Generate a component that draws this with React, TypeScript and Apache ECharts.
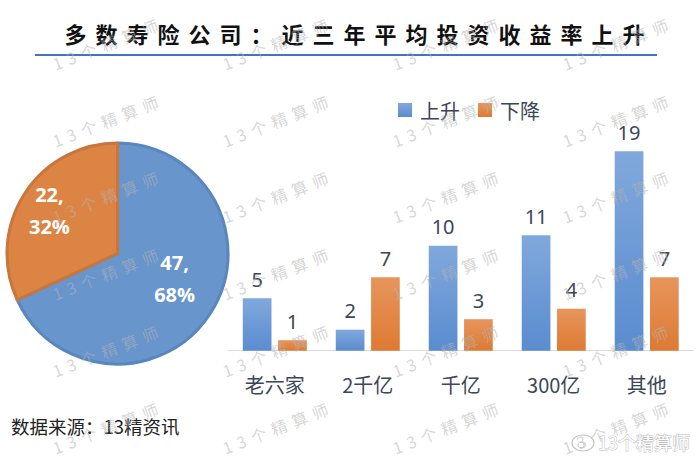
import React, { useEffect, useRef } from "react";
import * as echarts from "echarts";

const titleText = "多数寿险公司：近三年平均投资收益率上升";
const sourceText = "数据来源：13精资讯";
const watermarkText = "13个精算师";
const pieNames = ["上升", "下降"];
const pieValues = [47, 22];
const categories = ["老六家", "2千亿", "千亿", "300亿", "其他"];
const seriesNames = ["上升", "下降"];
const riseValues = [5, 2, 10, 11, 19];
const fallValues = [1, 7, 3, 4, 7];

const CJK = "'Noto Sans CJK SC', 'Microsoft YaHei', sans-serif";
const LABEL_COLOR = "#3B4658";

const wmRows = [43, 120, 196, 273, 350, 427];
const wmCols = [108, 278, 448, 618];

export default function App() {
  const ref = useRef<HTMLDivElement>(null);
  useEffect(() => {
    if (!ref.current) return;
    const chart = echarts.init(ref.current, undefined, { renderer: "svg" });

    const watermarks: any[] = [];
    wmRows.forEach((y) =>
      wmCols.forEach((x) =>
        watermarks.push({
          type: "text",
          x,
          y,
          rotation: 0.37,
          z: 100,
          silent: true,
          style: {
            text: watermarkText,
            fill: "rgba(180,180,180,0.55)",
            font: "16px 'Noto Sans CJK SC', LsWm",
            align: "center",
            verticalAlign: "middle",
          },
        })
      )
    );

    const blueGrad = new echarts.graphic.LinearGradient(0, 0, 0, 1, [
      { offset: 0, color: "#80A8DC" },
      { offset: 1, color: "#5A8CCF" },
    ]);
    const orangeGrad = new echarts.graphic.LinearGradient(0, 0, 0, 1, [
      { offset: 0, color: "#E7955C" },
      { offset: 1, color: "#DE7A33" },
    ]);

    const pieStyles = [
      { color: "#6795CC", borderColor: "#5A86BE", offset: [8, -6] },
      { color: "#DC8444", borderColor: "#C8763B", offset: [-19, -12] },
    ];

    chart.setOption({
      animation: false,
      backgroundColor: "#ffffff",
      legend: {
        data: seriesNames,
        left: 393,
        top: 95,
        icon: "rect",
        itemWidth: 14,
        itemHeight: 14,
        itemGap: 18,
        selectedMode: false,
        textStyle: {
          fontSize: 20,
          color: LABEL_COLOR,
          fontFamily: CJK,
          padding: [0, 0, 0, 3],
        },
      },
      grid: { left: 228.3, right: 6.8, top: 140.7, bottom: 107.3 },
      xAxis: {
        type: "category",
        data: categories,
        axisLine: { lineStyle: { color: "#D9D9D9", width: 1 } },
        axisTick: { show: false },
        axisLabel: {
          fontSize: 20,
          color: LABEL_COLOR,
          fontFamily: CJK,
          margin: 24,
        },
      },
      yAxis: { type: "value", min: 0, max: 20, show: false, splitLine: { show: false } },
      series: [
        {
          type: "pie",
          center: [117.5, 253.5],
          radius: 110.5,
          startAngle: 90,
          clockwise: true,
          percentPrecision: 0,
          silent: true,
          emphasis: { disabled: true },
          label: {
            show: true,
            position: "inside",
            formatter: "{c},\n{d}%",
            color: "#ffffff",
            fontSize: 20,
            fontWeight: "bold",
            lineHeight: 32,
            fontFamily: "'Open Sans', 'Noto Sans', sans-serif",
          },
          labelLine: { show: false },
          data: pieNames.map((n, i) => ({
            name: n,
            value: pieValues[i],
            itemStyle: {
              color: pieStyles[i].color,
              borderColor: pieStyles[i].borderColor,
              borderWidth: 3,
            },
            label: { offset: pieStyles[i].offset },
          })),
        },
        {
          type: "bar",
          name: seriesNames[0],
          data: riseValues,
          barWidth: 28.7,
          barGap: "23%",
          itemStyle: { color: blueGrad },
          label: {
            show: true,
            position: "top",
            distance: 9,
            fontSize: 20,
            color: LABEL_COLOR,
            fontFamily: "'Noto Sans', sans-serif",
          },
        },
        {
          type: "bar",
          name: seriesNames[1],
          data: fallValues,
          barWidth: 28.7,
          barGap: "23%",
          itemStyle: { color: orangeGrad },
          label: {
            show: true,
            position: "top",
            distance: 9,
            fontSize: 20,
            color: LABEL_COLOR,
            fontFamily: "'Noto Sans', sans-serif",
          },
        },
      ],
      graphic: [
        {
          type: "text",
          x: 359,
          y: 33,
          style: {
            text: titleText,
            fill: "#111111",
            font: "bold 22px 'Noto Sans CJK SC', LsTitle",
            align: "center",
            verticalAlign: "middle",
          },
        },
        {
          type: "line",
          shape: { x1: 35, y1: 55, x2: 657, y2: 55 },
          style: { stroke: "#4472C4", lineWidth: 2 },
        },
        {
          type: "text",
          x: 11,
          y: 426,
          style: {
            text: sourceText,
            fill: "#222222",
            font: "18.5px " + CJK,
            align: "left",
            verticalAlign: "middle",
          },
        },
        {
          type: "ellipse",
          shape: { cx: 583, cy: 443, rx: 11, ry: 8 },
          z: 100,
          style: { fill: "none", stroke: "#C4C4C4", lineWidth: 1.2 },
        },
        {
          type: "circle",
          shape: { cx: 581, cy: 445, r: 3 },
          z: 100,
          style: { fill: "none", stroke: "#C4C4C4", lineWidth: 1 },
        },
        {
          type: "text",
          x: 598,
          y: 442,
          z: 100,
          style: {
            text: watermarkText,
            fill: "#ffffff",
            stroke: "#BDBDBD",
            lineWidth: 1,
            font: "18px " + CJK,
            align: "left",
            verticalAlign: "middle",
          },
        },
        ...watermarks,
      ],
    });
    return () => chart.dispose();
  }, []);
  return (
    <>
      <style>{`
        text[style*="LsTitle"] { letter-spacing: 9px; }
        text[style*="LsWm"] { letter-spacing: 6px; }
      `}</style>
      <div
        ref={ref}
        style={{ position: "fixed", left: 0, top: 0, width: 700, height: 458 }}
      />
    </>
  );
}
